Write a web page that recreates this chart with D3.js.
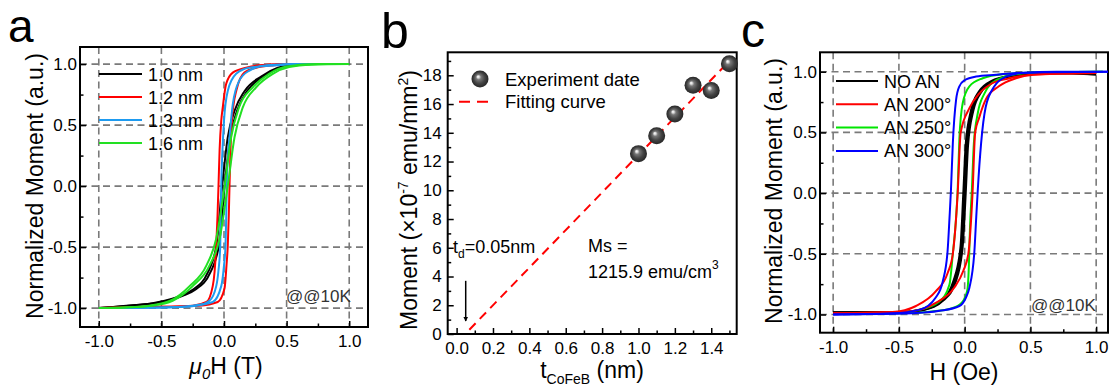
<!DOCTYPE html>
<html><head><meta charset="utf-8">
<script src="https://cdn.jsdelivr.net/npm/d3@7"></script>
<style>
body{margin:0;background:#fff}
svg{display:block}
text{font-family:"Liberation Sans",Arial,sans-serif;fill:#000}
</style>
</head><body>
<svg id="chart" width="1114" height="389"></svg>
<script>
// ---------------- Panel a data (H in T, normalized M) ----------------
const a10Desc = [[-1,-1],[-0.7,-0.975],[-0.57,-0.96],[-0.42,-0.925],[-0.35,-0.9],[-0.25,-0.85],[-0.13,-0.71],[-0.06,-0.48],[-0.015,0.0],[0.03,0.4],[0.085,0.62],[0.165,0.78],[0.3,0.9],[0.43,0.97],[0.52,0.99],[0.7,1.0],[1,1]];
const a10Asc  = [[-1,-1],[-0.7,-0.975],[-0.55,-0.96],[-0.4,-0.925],[-0.33,-0.9],[-0.23,-0.85],[-0.11,-0.71],[-0.04,-0.48],[0.005,0.0],[0.05,0.4],[0.105,0.62],[0.185,0.78],[0.32,0.9],[0.45,0.97],[0.54,0.99],[0.7,1.0],[1,1]];
const a12Desc = [[-1,-1],[-0.5,-0.99],[-0.25,-0.98],[-0.14,-0.95],[-0.09,-0.82],[-0.075,-0.7],[-0.062,-0.49],[-0.052,-0.25],[-0.044,0.0],[-0.035,0.3],[-0.022,0.535],[-0.01,0.645],[0.017,0.836],[0.07,0.93],[0.177,0.97],[0.28,0.99],[0.5,1.0],[1,1]];
const a12Asc  = [[-1,-1],[-0.5,-0.99],[-0.2,-0.98],[-0.05,-0.95],[0.004,-0.84],[0.02,-0.65],[0.03,-0.49],[0.038,-0.25],[0.044,0.0],[0.052,0.3],[0.06,0.5],[0.075,0.66],[0.1,0.79],[0.163,0.93],[0.257,0.97],[0.4,0.99],[0.6,1.0],[1,1]];
const a13Desc = [[-1,-1],[-0.5,-0.995],[-0.22,-0.98],[-0.116,-0.94],[-0.062,-0.82],[-0.045,-0.7],[-0.03,-0.49],[-0.026,-0.25],[-0.022,0.0],[-0.012,0.3],[0.0,0.535],[0.03,0.78],[0.097,0.92],[0.2,0.97],[0.42,0.99],[0.6,1.0],[1,1]];
const a13Asc  = [[-1,-1],[-0.5,-0.995],[-0.25,-0.98],[-0.09,-0.95],[-0.022,-0.82],[0.0,-0.65],[0.012,-0.49],[0.018,-0.25],[0.022,0.0],[0.032,0.25],[0.044,0.4],[0.07,0.67],[0.12,0.86],[0.2,0.945],[0.34,0.99],[0.6,1.0],[1,1]];
const a16Desc = [[-1,-1],[-0.8,-0.995],[-0.6,-0.98],[-0.43,-0.94],[-0.275,-0.82],[-0.14,-0.65],[-0.062,-0.43],[0.005,0.0],[0.057,0.4],[0.12,0.645],[0.23,0.81],[0.36,0.92],[0.5,0.98],[0.75,1.0],[1,1]];
const a16Asc  = [[-1,-1],[-0.8,-0.995],[-0.58,-0.98],[-0.41,-0.94],[-0.25,-0.82],[-0.115,-0.65],[-0.035,-0.43],[0.03,0.0],[0.084,0.4],[0.15,0.645],[0.257,0.81],[0.39,0.92],[0.52,0.975],[0.7,0.995],[1,1]];
const legendA = ["1.0 nm","1.2 nm","1.3 nm","1.6 nm"];
const colorsA = ["#000000","#ff0000","#1e9bf0","#22e022"];

// ---------------- Panel b data ----------------
const thickness = [1.0,1.1,1.2,1.3,1.4,1.5];
const moment = [12.55,13.8,15.3,17.3,16.95,18.8];
const fitT = [0.07,1.5];
const fitM = [0.3,19.0];
const arrowT = [0.05,0.05];
const arrowM = [3.7,0.9];
const bXTicks = [0.0,0.2,0.4,0.6,0.8,1.0,1.2,1.4];
const bYTicks = [0,2,4,6,8,10,12,14,16,18];

// ---------------- Panel c data (H in Oe, normalized M) ----------------
const cNoDesc = [[-1,-0.985],[-0.5,-0.985],[-0.32,-0.96],[-0.17,-0.88],[-0.085,-0.73],[-0.03,-0.45],[-0.008,0.0],[0.01,0.4],[0.05,0.68],[0.11,0.835],[0.21,0.925],[0.34,0.965],[0.49,0.985],[0.7,0.99],[1,0.98]];
const cNoAsc  = [[-1,-0.985],[-0.5,-0.985],[-0.31,-0.96],[-0.16,-0.88],[-0.07,-0.73],[-0.018,-0.45],[0.006,0.0],[0.024,0.4],[0.064,0.68],[0.125,0.835],[0.225,0.925],[0.355,0.965],[0.5,0.985],[0.8,0.99],[1,0.98]];
const c200Desc = [[-1,-0.99],[-0.55,-0.98],[-0.37,-0.93],[-0.22,-0.81],[-0.13,-0.66],[-0.09,-0.5],[-0.053,0.0],[-0.03,0.5],[0.036,0.7],[0.11,0.82],[0.21,0.905],[0.34,0.946],[0.49,0.974],[0.7,0.985],[1,0.99]];
const c200Asc  = [[-1,-0.99],[-0.42,-0.975],[-0.22,-0.905],[-0.08,-0.78],[-0.01,-0.64],[0.028,-0.5],[0.06,0.0],[0.08,0.5],[0.11,0.62],[0.16,0.77],[0.26,0.88],[0.39,0.946],[0.52,0.974],[0.75,0.985],[1,0.99]];
const c250Desc = [[-1,-0.995],[-0.6,-0.99],[-0.345,-0.96],[-0.19,-0.89],[-0.116,-0.755],[-0.09,-0.5],[-0.065,-0.2],[-0.053,0.03],[-0.04,0.45],[-0.015,0.74],[0.036,0.88],[0.137,0.946],[0.29,0.98],[0.6,0.995],[1.05,1.0]];
const c250Asc  = [[-1,-0.995],[-0.5,-0.99],[-0.25,-0.975],[-0.1,-0.95],[-0.02,-0.9],[0.02,-0.8],[0.032,-0.6],[0.04,-0.3],[0.055,0.03],[0.07,0.41],[0.1,0.66],[0.15,0.82],[0.24,0.93],[0.39,0.98],[0.6,0.995],[1.05,1.0]];
const c300Desc = [[-1,-1],[-0.55,-0.99],[-0.34,-0.96],[-0.22,-0.86],[-0.167,-0.73],[-0.13,-0.48],[-0.115,-0.2],[-0.104,0.03],[-0.09,0.41],[-0.065,0.77],[-0.04,0.88],[0.0,0.93],[0.087,0.96],[0.24,0.975],[0.39,0.99],[0.6,0.995],[1.1,1.0]];
const c300Asc  = [[-1,-1],[-0.4,-0.99],[-0.19,-0.97],[-0.04,-0.93],[0.01,-0.86],[0.036,-0.78],[0.074,-0.48],[0.088,-0.2],[0.1,0.03],[0.125,0.41],[0.16,0.71],[0.226,0.88],[0.315,0.96],[0.44,0.99],[0.7,1.0],[1.1,1.0]];
const legendC = ["NO AN","AN 200°","AN 250°","AN 300°"];
const colorsC = ["#000000","#ff0000","#00e600","#0000ff"];

const loopMajor = [-1,-0.5,0,0.5,1];
const loopMinor = [-0.75,-0.25,0.25,0.75];
const loopLabels = ["-1.0","-0.5","0.0","0.5","1.0"];

// -------------------------------------------------------------
const svg = d3.select("#chart");
const defs = svg.append("defs");
const FONT = 17;

function frameAndAxes(g, x, y, box, o) {
  if (o.grid) {
    g.append("g").selectAll("line").data(o.xMajor).join("line")
      .attr("x1", d => x(d)).attr("x2", d => x(d)).attr("y1", box.top).attr("y2", box.bottom)
      .attr("stroke", "#7a7a7a").attr("stroke-width", 1.6).attr("stroke-dasharray", "7,4.5");
    g.append("g").selectAll("line").data(o.yMajor).join("line")
      .attr("y1", d => y(d)).attr("y2", d => y(d)).attr("x1", box.left).attr("x2", box.right)
      .attr("stroke", "#7a7a7a").attr("stroke-width", 1.6).attr("stroke-dasharray", "7,4.5");
  }
  const xa = g.append("g").attr("transform", `translate(0,${box.bottom})`)
    .call(d3.axisBottom(x).tickValues(o.xMajor).tickSize(-6).tickPadding(8)
      .tickFormat((d, i) => o.xLabels[i]));
  const xm = g.append("g").attr("transform", `translate(0,${box.bottom})`)
    .call(d3.axisBottom(x).tickValues(o.xMinor).tickSize(-3.5).tickFormat(""));
  const ya = g.append("g").attr("transform", `translate(${box.left},0)`)
    .call(d3.axisLeft(y).tickValues(o.yMajor).tickSize(-6).tickPadding(o.yPad)
      .tickFormat((d, i) => o.yLabels[i]));
  const ym = g.append("g").attr("transform", `translate(${box.left},0)`)
    .call(d3.axisLeft(y).tickValues(o.yMinor).tickSize(-3.5).tickFormat(""));
  [xa, xm, ya, ym].forEach(a => {
    a.select(".domain").remove();
    a.selectAll("line").attr("stroke", "#000").attr("stroke-width", 1.5);
    a.selectAll("text").attr("font-size", FONT).attr("font-family", '"Liberation Sans",Arial,sans-serif').attr("fill", "#000");
  });
  g.append("rect").attr("x", box.left).attr("y", box.top)
    .attr("width", box.right - box.left).attr("height", box.bottom - box.top)
    .attr("fill", "none").attr("stroke", "#000").attr("stroke-width", 2);
}

function loopPanel(o) {
  const g = svg.append("g");
  const box = o.box;
  const x = d3.scaleLinear().domain(o.xDom).range([box.left, box.right]);
  const y = d3.scaleLinear().domain(o.yDom).range([box.bottom, box.top]);
  const clipId = "clip" + o.id;
  defs.append("clipPath").attr("id", clipId).append("rect")
    .attr("x", box.left).attr("y", box.top).attr("width", box.right - box.left).attr("height", box.bottom - box.top);
  frameAndAxes(g, x, y, box, {grid: true, xMajor: loopMajor, xMinor: loopMinor, xLabels: loopLabels,
    yMajor: loopMajor, yMinor: loopMinor, yLabels: loopLabels, yPad: 3});
  const line = d3.line().x(d => x(d[0])).y(d => y(d[1])).curve(d3.curveMonotoneX);
  const cg = g.append("g").attr("clip-path", `url(#${clipId})`);
  o.order.forEach(i => {
    const s = o.series[i];
    [s.desc, s.asc].forEach(br => {
      cg.append("path").datum(br).attr("d", line).attr("fill", "none")
        .attr("stroke", s.color).attr("stroke-width", s.w || 2);
    });
  });
  o.series.forEach((s, i) => {
    const ly = o.legend.y0 + i * o.legend.dy;
    g.append("line").attr("x1", o.legend.x1).attr("x2", o.legend.x2).attr("y1", ly).attr("y2", ly)
      .attr("stroke", s.color).attr("stroke-width", 2);
    g.append("text").attr("x", o.legend.tx).attr("y", ly + 6.5).attr("font-size", 18).text(s.name);
  });
  g.append("text").attr("x", o.note.x).attr("y", o.note.y).attr("font-size", 17)
    .style("fill", "#333").text("@@10K");
  return {g, x, y};
}

// ---------------- Panel a ----------------
const pa = loopPanel({
  id: "a", box: {left: 80, right: 368, top: 47, bottom: 327},
  xDom: [-1.15, 1.15], yDom: [-1.155, 1.14],
  series: [
    {name: legendA[0], color: colorsA[0], desc: a10Desc, asc: a10Asc},
    {name: legendA[1], color: colorsA[1], desc: a12Desc, asc: a12Asc},
    {name: legendA[2], color: colorsA[2], desc: a13Desc, asc: a13Asc},
    {name: legendA[3], color: colorsA[3], desc: a16Desc, asc: a16Asc}
  ],
  order: [0, 1, 2, 3],
  legend: {x1: 99, x2: 142, tx: 148, y0: 74, dy: 23},
  note: {x: 286, y: 302}
});
pa.g.append("text").attr("x", 8).attr("y", 41.5).attr("font-size", 46).text("a");
pa.g.append("text").attr("transform", "translate(43,186) rotate(-90)").attr("text-anchor", "middle")
  .attr("font-size", 23).text("Normalized Moment (a.u.)");
{
  const t = pa.g.append("text").attr("x", 226).attr("y", 374).attr("text-anchor", "middle").attr("font-size", 23);
  t.append("tspan").attr("font-style", "italic").text("μ");
  t.append("tspan").attr("font-style", "italic").attr("font-size", 15).attr("dy", 5).text("0");
  t.append("tspan").attr("dy", -5).text("H (T)");
}

// ---------------- Panel c ----------------
const pc = loopPanel({
  id: "c", box: {left: 820, right: 1108, top: 52.3, bottom: 332.7},
  xDom: [-1.1, 1.09], yDom: [-1.15, 1.16],
  series: [
    {name: legendC[0], color: colorsC[0], desc: cNoDesc, asc: cNoAsc, w: 2.6},
    {name: legendC[1], color: colorsC[1], desc: c200Desc, asc: c200Asc},
    {name: legendC[2], color: colorsC[2], desc: c250Desc, asc: c250Asc},
    {name: legendC[3], color: colorsC[3], desc: c300Desc, asc: c300Asc}
  ],
  order: [0, 2, 1, 3],
  legend: {x1: 836, x2: 878, tx: 884, y0: 81, dy: 23.3},
  note: {x: 1031, y: 311}
});
pc.g.append("text").attr("x", 741).attr("y", 47).attr("font-size", 48).text("c");
pc.g.append("text").attr("transform", "translate(782,191) rotate(-90)").attr("text-anchor", "middle")
  .attr("font-size", 23).text("Normalized Moment (a.u.)");
pc.g.append("text").attr("x", 964).attr("y", 380).attr("text-anchor", "middle").attr("font-size", 23).text("H (Oe)");

// ---------------- Panel b ----------------
{
  const g = svg.append("g");
  const box = {left: 447.7, right: 736.7, top: 52.3, bottom: 334};
  const x = d3.scaleLinear().domain([-0.049, 1.54]).range([box.left, box.right]);
  const y = d3.scaleLinear().domain([0, 19.6]).range([box.bottom, box.top]);
  const xMinor = d3.range(0.1, 1.55, 0.2).map(v => +v.toFixed(2));
  const yMinor = d3.range(1, 20, 2);
  frameAndAxes(g, x, y, box, {grid: false, xMajor: bXTicks, xMinor: xMinor, xLabels: bXTicks.map(d => d.toFixed(1)),
    yMajor: bYTicks, yMinor: yMinor, yLabels: bYTicks.map(String), yPad: 6});

  const fit = fitT.map((t, i) => [t, fitM[i]]);
  g.append("path").datum(fit).attr("d", d3.line().x(d => x(d[0])).y(d => y(d[1])))
    .attr("stroke", "#ff0000").attr("stroke-width", 2).attr("stroke-dasharray", "9,6").attr("fill", "none");

  const rg = defs.append("radialGradient").attr("id", "sphere").attr("cx", "50%").attr("cy", "50%").attr("r", "50%")
    .attr("fx", "38%").attr("fy", "35%");
  [["0%", "#ffffff"], ["12%", "#e0e0e0"], ["30%", "#777777"], ["65%", "#444444"], ["100%", "#262626"]]
    .forEach(s => rg.append("stop").attr("offset", s[0]).attr("stop-color", s[1]));

  g.append("g").selectAll("circle").data(thickness.map((t, i) => [t, moment[i]])).join("circle")
    .attr("cx", d => x(d[0])).attr("cy", d => y(d[1])).attr("r", 8.5).attr("fill", "url(#sphere)");

  g.append("circle").attr("cx", 480).attr("cy", 79).attr("r", 8.5).attr("fill", "url(#sphere)");
  g.append("text").attr("x", 505).attr("y", 85.5).attr("font-size", 18.5).text("Experiment date");
  g.append("line").attr("x1", 459).attr("x2", 491).attr("y1", 101.7).attr("y2", 101.7)
    .attr("stroke", "#ff0000").attr("stroke-width", 2).attr("stroke-dasharray", "11,7");
  g.append("text").attr("x", 505).attr("y", 108).attr("font-size", 18.5).text("Fitting curve");

  defs.append("marker").attr("id", "arrowHead").attr("viewBox", "0 0 10 10").attr("refX", 9).attr("refY", 5)
    .attr("markerWidth", 5).attr("markerHeight", 7).attr("markerUnits", "userSpaceOnUse").attr("orient", "auto")
    .append("path").attr("d", "M0,0 L10,5 L0,10 Z").attr("fill", "#000");
  g.append("line").attr("x1", x(arrowT[0])).attr("x2", x(arrowT[1])).attr("y1", y(arrowM[0])).attr("y2", y(arrowM[1]))
    .attr("stroke", "#000").attr("stroke-width", 1.5).attr("marker-end", "url(#arrowHead)");

  const td = g.append("text").attr("x", 453).attr("y", 253).attr("font-size", 18);
  td.append("tspan").text("t");
  td.append("tspan").attr("font-size", 12).attr("dy", 5).text("d");
  td.append("tspan").attr("dy", -5).text("=0.05nm");
  g.append("text").attr("x", 588).attr("y", 252).attr("font-size", 18).text("Ms =");
  const ms = g.append("text").attr("x", 588).attr("y", 278).attr("font-size", 18);
  ms.append("tspan").text("1215.9 emu/cm");
  ms.append("tspan").attr("font-size", 12).attr("dy", -9).text("3");

  g.append("text").attr("x", 381).attr("y", 48).attr("font-size", 50).text("b");
  const yt = g.append("text").attr("transform", "translate(417,200) rotate(-90)").attr("text-anchor", "middle").attr("font-size", 23);
  yt.append("tspan").text("Moment (×10");
  yt.append("tspan").attr("font-size", 14).attr("dy", -9).text("-7");
  yt.append("tspan").attr("dy", 9).text(" emu/mm");
  yt.append("tspan").attr("font-size", 14).attr("dy", -9).text("2");
  yt.append("tspan").attr("dy", 9).text(")");
  const xt = g.append("text").attr("x", 592).attr("y", 378).attr("text-anchor", "middle").attr("font-size", 23);
  xt.append("tspan").text("t");
  xt.append("tspan").attr("font-size", 14).attr("dy", 6).text("CoFeB");
  xt.append("tspan").attr("dy", -6).text(" (nm)");
}
</script>
</body></html>
